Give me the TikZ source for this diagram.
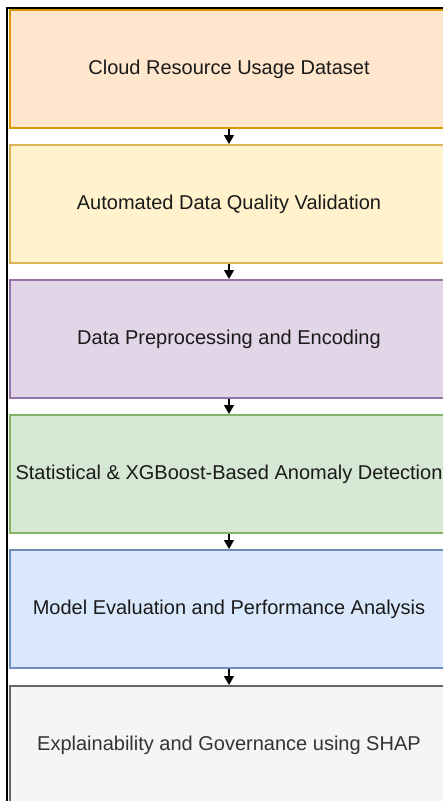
\documentclass[tikz,border=0pt]{standalone}
\usepackage{fontspec}
\setmainfont{Liberation Sans}
\usetikzlibrary{arrows.meta}
\definecolor{oFill}{HTML}{FFE6CC}\definecolor{oLine}{HTML}{D79B00}
\definecolor{yFill}{HTML}{FFF2CC}\definecolor{yLine}{HTML}{D6B656}
\definecolor{pFill}{HTML}{E1D5E7}\definecolor{pLine}{HTML}{9673A6}
\definecolor{gFill}{HTML}{D5E8D4}\definecolor{gLine}{HTML}{82B366}
\definecolor{bFill}{HTML}{DAE8FC}\definecolor{bLine}{HTML}{6C8EBF}
\definecolor{sFill}{HTML}{F5F5F5}\definecolor{sLine}{HTML}{666666}
\definecolor{sText}{HTML}{333333}
\definecolor{mText}{HTML}{1A1A1A}
\tikzset{
  stage/.style={draw, line width=2pt, minimum width=438pt, minimum height=118pt,
    inner sep=0pt, font=\fontsize{20}{24}\selectfont, text=mText},
  flow/.style={line width=1.3pt, -{Triangle[width=10pt,length=9pt]}}
}
\begin{document}
\begin{tikzpicture}[x=1pt,y=-1pt]
\useasboundingbox (0,0) rectangle (443,801);
\clip (0,0) rectangle (443,801);
% frame around the whole flow
\draw[line width=2.4pt] (7,8) rectangle (470,830);
\node[stage, fill=oFill, draw=oLine] (s1) at (229,69) {Cloud Resource Usage Dataset};
\node[stage, fill=yFill, draw=yLine] (s2) at (229,204) {Automated Data Quality Validation};
\node[stage, fill=pFill, draw=pLine] (s3) at (229,339) {Data Preprocessing and Encoding};
\node[stage, fill=gFill, draw=gLine] (s4) at (229,474) {Statistical \& XGBoost-Based Anomaly Detection};
\node[stage, fill=bFill, draw=bLine] (s5) at (229,609) {Model Evaluation and Performance Analysis};
\node[stage, fill=sFill, draw=sLine, text=sText] (s6) at (229,745) {Explainability and Governance using SHAP};
\foreach \a/\b in {s1/s2,s2/s3,s3/s4,s4/s5,s5/s6}
  \draw[flow] (\a.south) -- (\b.north);
\end{tikzpicture}
\end{document}
